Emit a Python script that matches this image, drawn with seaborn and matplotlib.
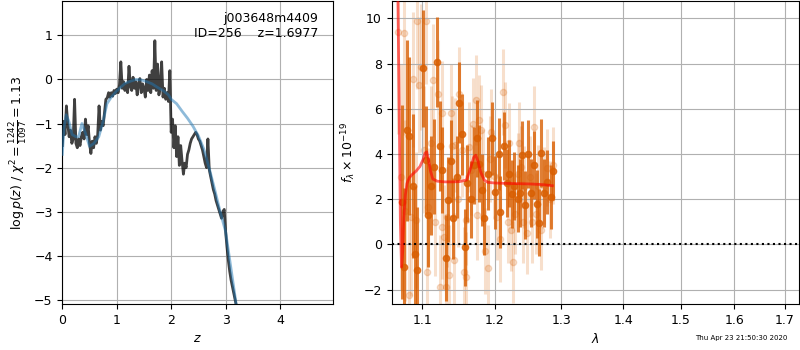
import numpy as np
import pandas as pd
import seaborn as sns
import matplotlib
matplotlib.use("Agg")
import matplotlib.pyplot as plt
from matplotlib.ticker import FixedLocator, NullLocator, FixedFormatter

# ---- p(z) panel data ----
z_grid = [0.000, 0.025, 0.050, 0.075, 0.100, 0.125, 0.150, 0.175, 0.200, 0.225,
          0.250, 0.275, 0.300, 0.325, 0.350, 0.375, 0.400, 0.425, 0.450, 0.475,
          0.500, 0.525, 0.550, 0.575, 0.600, 0.625, 0.650, 0.675, 0.700, 0.725,
          0.750, 0.775, 0.800, 0.825, 0.850, 0.875, 0.900, 0.925, 0.950, 0.975,
          1.000, 1.025, 1.050, 1.075, 1.100, 1.125, 1.150, 1.175, 1.200, 1.225,
          1.250, 1.275, 1.300, 1.325, 1.350, 1.375, 1.400, 1.425, 1.450, 1.475,
          1.500, 1.525, 1.550, 1.575, 1.600, 1.625, 1.650, 1.675, 1.700, 1.725,
          1.750, 1.775, 1.800, 1.825, 1.850, 1.875, 1.900, 1.925, 1.950, 1.975,
          2.000, 2.025, 2.050, 2.075, 2.100, 2.125, 2.150, 2.175, 2.200, 2.225,
          2.250, 2.275, 2.300, 2.325, 2.350, 2.375, 2.400, 2.425, 2.450, 2.475,
          2.500, 2.525, 2.550, 2.575, 2.600, 2.625, 2.650, 2.675, 2.700, 2.725,
          2.750, 2.775, 2.800, 2.825, 2.850, 2.875, 2.900, 2.925, 2.950, 2.975,
          3.000, 3.025, 3.050, 3.075, 3.100, 3.125, 3.150, 3.175, 3.200]
log_pz = [-1.50, -0.95, -1.25, -0.60, -1.00, -1.30, -1.15, -1.45, -1.35, -0.45,
          -1.45, -1.55, -1.35, -1.50, -1.30, -1.20, -1.35, -0.90, -1.25, -1.05,
          -1.45, -1.68, -1.40, -1.55, -1.30, -1.45, -1.25, -0.60, -1.15, -0.95,
          -1.05, -0.75, -0.45, -0.42, -0.30, -0.40, -0.30, -0.38, -0.25, -0.32,
          -0.22, -0.30, -0.12, 0.40, -0.20, -0.05, -0.25, -0.10, -0.30, 0.30,
          -0.15, -0.25, 0.05, -0.20, -0.05, -0.35, -0.10, 0.02, -0.30, -0.10,
          -0.20, -0.40, 0.00, -0.25, 0.10, -0.30, 0.20, -0.20, 0.88, -0.25,
          0.35, -0.35, -0.15, 0.40, -0.40, -0.20, -0.45, -0.30, -0.50, 0.20,
          -1.20, -0.90, -1.55, -1.05, -1.75, -1.30, -1.95, -1.50, -1.85, -2.15,
          -1.90, -2.00, -1.70, -1.60, -1.45, -1.35, -1.30, -1.25, -1.20, -1.25,
          -1.35, -1.40, -1.50, -1.60, -1.75, -1.90, -2.00, -1.35, -2.05, -2.20,
          -2.35, -2.50, -2.60, -2.75, -2.85, -2.95, -3.05, -3.15, -3.00, -2.95,
          -3.45, -3.80, -4.10, -4.35, -4.55, -4.70, -4.85, -5.00, -5.15]

z_smooth = [0.00, 0.03, 0.07, 0.12, 0.18, 0.25, 0.30, 0.36, 0.42, 0.50, 0.58,
            0.67, 0.75, 0.82, 0.90, 0.97, 1.05, 1.15, 1.25, 1.35, 1.45, 1.55,
            1.65, 1.75, 1.85, 1.95, 2.00, 2.10, 2.20, 2.30, 2.40, 2.50, 2.60,
            2.70, 2.80, 2.90, 3.00, 3.10, 3.20]
log_pz_smooth = [-1.70, -1.10, -0.80, -0.95, -1.25, -1.30, -1.30, -1.00, -1.20,
                 -1.52, -1.45, -1.30, -0.95, -0.55, -0.40, -0.30, -0.20, -0.09,
                 -0.04, 0.00, -0.01, -0.05, -0.10, -0.18, -0.25, -0.35, -0.45,
                 -0.55, -0.72, -0.88, -1.06, -1.28, -1.58, -2.02, -2.50, -3.00,
                 -3.45, -4.30, -5.15]

# ---- spectrum panel data ----
wave_a = [1.0737, 1.0759, 1.0802, 1.0832, 1.0877, 1.0903, 1.0934, 1.1009, 1.1044,
          1.1080, 1.1120, 1.1161, 1.1192, 1.1232, 1.1269, 1.1314, 1.1342, 1.1388,
          1.1416, 1.1462, 1.1494, 1.1541, 1.1573, 1.1611, 1.1657, 1.1700, 1.1742,
          1.1775, 1.1814, 1.1847, 1.1904, 1.1957, 1.2008, 1.2055, 1.2078, 1.2128,
          1.2176, 1.2210, 1.2246, 1.2287, 1.2335, 1.2369, 1.2399, 1.2449, 1.2494,
          1.2530, 1.2576, 1.2622, 1.2661, 1.2692, 1.2738, 1.2780, 1.2831, 1.2868]
flux_a = [1.89, -0.99, 5.06, 4.79, 2.58, -0.40, -1.14, 7.79, 3.73,
          1.30, 2.60, 3.43, 8.08, 4.36, 3.29, -0.59, 1.99, 3.69,
          1.15, 2.99, 6.28, 4.87, -0.13, 2.70, 2.00, 3.50, 4.69,
          3.58, 2.40, 1.15, 3.14, 4.69, 2.30, 4.00, 1.43, 4.35,
          2.73, 3.14, 2.23, 2.60, 2.03, 2.28, 3.95, 1.74, 4.00,
          2.28, 3.50, 1.80, 0.97, 4.04, 2.27, 2.77, 2.10, 3.27]
err_a = [4.3, 3.5, 4.0, 3.5, 3.2, 3.0, 2.8, 2.6, 2.4,
         2.3, 2.2, 2.1, 2.0, 2.0, 1.9, 1.9, 1.9, 1.8,
         1.8, 1.8, 1.8, 1.8, 1.7, 1.7, 1.7, 1.7, 1.7,
         1.7, 1.6, 1.6, 1.6, 1.6, 1.6, 1.6, 1.6, 1.5,
         1.5, 1.5, 1.5, 1.5, 1.5, 1.5, 1.5, 1.5, 1.5,
         1.5, 1.5, 1.5, 1.5, 1.5, 1.5, 1.4, 1.4, 1.3]

wave_b = [1.0685, 1.0717, 1.0759, 1.0777, 1.0825, 1.0848, 1.0877, 1.0920, 1.0934,
          1.0964, 1.0983, 1.1020, 1.1044, 1.1060, 1.1080, 1.1114, 1.1143, 1.1174,
          1.1205, 1.1235, 1.1260, 1.1269, 1.1292, 1.1314, 1.1337, 1.1358, 1.1383,
          1.1400, 1.1424, 1.1448, 1.1476, 1.1503, 1.1531, 1.1563, 1.1587, 1.1597,
          1.1629, 1.1665, 1.1693, 1.1728, 1.1752, 1.1775, 1.1799, 1.1827, 1.1860,
          1.1904, 1.1928, 1.1953, 1.1990, 1.2030, 1.2078, 1.2113, 1.2151, 1.2187,
          1.2210, 1.2235, 1.2270, 1.2299, 1.2335, 1.2362, 1.2384, 1.2419, 1.2434,
          1.2474, 1.2512, 1.2543, 1.2585, 1.2611, 1.2642, 1.2688, 1.2726, 1.2772,
          1.2819, 1.2868]
flux_b = [9.38, 3.00, 9.34, 1.50, -2.24, 1.20, 7.30, 1.07, 9.88,
          7.06, 7.86, 4.20, 9.88, -1.21, 1.66, 4.50, 7.27, 1.00,
          6.64, -1.90, 5.80, 0.78, 0.34, -1.87, 1.22, -1.36, 5.80,
          4.35, -0.69, 4.40, 2.00, 6.64, 4.20, -1.21, -1.43, 1.07,
          4.32, 3.30, 5.35, 6.38, 1.30, 5.50, 5.06, 3.10, -0.28,
          -1.06, 3.80, 4.98, 3.02, 1.22, 0.26, 6.75, 5.28, 1.00,
          4.47, 0.63, -0.77, 1.37, 3.14, 4.50, 3.43, 1.00, 2.55,
          0.50, 3.00, 1.00, 5.20, 1.37, 2.60, 0.66, 2.60, 3.40,
          2.00, 3.51]
err_b = [4.5, 5.0, 4.5, 4.0, 3.5, 3.5, 3.0, 3.0, 3.0,
         3.0, 2.8, 2.8, 2.8, 2.6, 2.6, 2.5, 2.5, 2.4,
         2.4, 2.3, 2.3, 2.3, 2.3, 2.2, 2.2, 2.2, 2.2,
         2.2, 2.1, 2.1, 2.1, 2.1, 2.1, 2.0, 2.0, 2.0,
         2.0, 2.0, 2.0, 2.0, 2.0, 2.0, 2.0, 2.0, 1.9,
         1.9, 1.9, 1.9, 1.9, 1.9, 1.9, 1.9, 1.9, 1.8,
         1.8, 1.8, 1.8, 1.8, 1.8, 1.8, 1.8, 1.8, 1.8,
         1.8, 1.8, 1.8, 1.8, 1.8, 1.8, 1.8, 1.7, 1.7,
         1.7, 1.7]

wave_model = [1.0680, 1.0700, 1.0715, 1.0730, 1.0745, 1.0760, 1.0780, 1.0800,
              1.0830, 1.0870, 1.0920, 1.0970, 1.1010, 1.1040, 1.1060, 1.1080,
              1.1110, 1.1140, 1.1200, 1.1300, 1.1400, 1.1500, 1.1600, 1.1650,
              1.1700, 1.1730, 1.1760, 1.1800, 1.1850, 1.1900, 1.2000, 1.2200,
              1.2500, 1.2700, 1.2860]
flux_model = [12.0, 6.0, 1.0, -1.0, -0.3, 1.2, 2.2, 2.7,
              2.95, 3.1, 3.25, 3.45, 3.75, 4.05, 4.1, 3.8,
              3.25, 2.9, 2.8, 2.77, 2.77, 2.78, 2.85, 3.3,
              3.85, 3.95, 3.7, 3.2, 2.85, 2.75, 2.72, 2.70,
              2.68, 2.65, 2.60]

xticks_lam = [1.1, 1.2, 1.3, 1.4, 1.5, 1.6, 1.7]

plt.rcParams['font.size'] = 9
orange = '#d95f02'

fig = plt.figure(figsize=(8, 3.5), dpi=100)
ax1 = fig.add_axes([0.0779, 0.131, 0.3388, 0.866])
ax2 = fig.add_axes([0.4896, 0.131, 0.5095, 0.866])

# left: p(z)
pz = pd.DataFrame({'z': z_grid, 'lnp': log_pz})
pz_s = pd.DataFrame({'z': z_smooth, 'lnp': log_pz_smooth})
sns.lineplot(data=pz_s, x='z', y='lnp', ax=ax1, color='#1f77b4', alpha=0.5,
             lw=2, estimator=None, sort=False, zorder=3)
sns.lineplot(data=pz, x='z', y='lnp', ax=ax1, color='k', alpha=0.75,
             lw=2, estimator=None, sort=False, zorder=2)
ax1.set_xlim(0, 4.98)
ax1.set_ylim(-5.1, 1.78)
ax1.set_xticks([0, 1, 2, 3, 4])
ax1.grid(True)
ax1.set_xlabel('$z$')
ax1.set_ylabel(r'$\log p(z)$ / $\chi^2=\frac{1242}{1097}=1.13$')
ax1.text(0.945, 0.965, 'j003648m4409\nID=256    z=1.6977', ha='right', va='top',
         multialignment='right', transform=ax1.transAxes, fontsize=9)

# right: spectrum
ax2.set_xscale('log')
ax2.errorbar(wave_b, flux_b, yerr=err_b, fmt='o', color=orange, alpha=0.2,
             ms=4.5, elinewidth=2.2, zorder=1)
ax2.errorbar(wave_a, flux_a, yerr=err_a, fmt='o', color=orange, alpha=0.8,
             ms=4.5, elinewidth=2.2, zorder=2)
spec = pd.DataFrame({'wave': wave_model, 'flux': flux_model})
sns.lineplot(data=spec, x='wave', y='flux', ax=ax2, color='red', alpha=0.6,
             lw=2, estimator=None, sort=False, zorder=5)
ax2.axhline(0, color='k', ls=':', lw=1.5, zorder=4)
ax2.set_xlim(1.0604, 1.7296)
ax2.set_ylim(-2.64, 10.77)
ax2.xaxis.set_major_locator(FixedLocator(xticks_lam))
ax2.xaxis.set_major_formatter(FixedFormatter([f'{t:.1f}' for t in xticks_lam]))
ax2.xaxis.set_minor_locator(NullLocator())
ax2.set_yticks([-2, 0, 2, 4, 6, 8, 10])
ax2.grid(True)
ax2.set_xlabel(r'$\lambda$')
ax2.set_ylabel(r'$f_\lambda\times10^{-19}$')

fig.text(0.984, 0.025, 'Thu Apr 23 21:50:30 2020', ha='right', va='bottom', fontsize=5)

fig.savefig('out.png', dpi=100)
